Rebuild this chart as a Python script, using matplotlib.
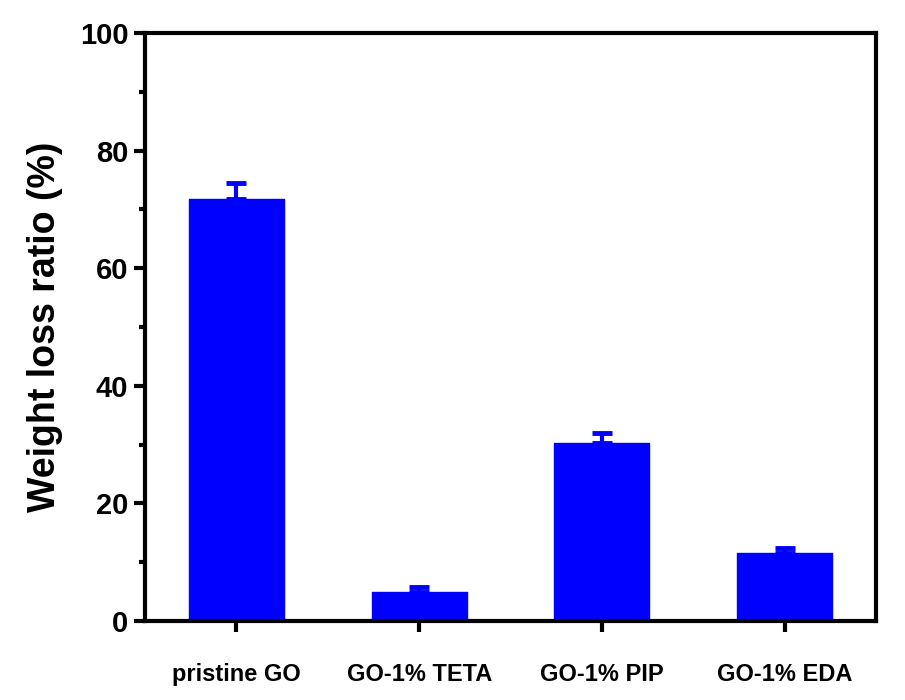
import numpy as np
import matplotlib.pyplot as plt
from matplotlib.ticker import MultipleLocator

samples = ['pristine GO', 'GO-1% TETA', 'GO-1% PIP', 'GO-1% EDA']
loss = [71.8, 5.0, 30.2, 11.6]
err = [2.7, 0.85, 1.8, 0.8]

plt.rcParams['font.family'] = ['Liberation Sans', 'DejaVu Sans']
plt.rcParams['font.weight'] = 'bold'

fig = plt.figure(figsize=(9.05, 7.0), dpi=100)
ax = fig.add_axes([145/905, 1 - 621/700, (876 - 145)/905, (621 - 33)/700])

x = np.arange(1, len(samples) + 1)
ax.bar(x, loss, width=0.52, color='#0000ff', edgecolor='#0000ff', linewidth=1,
       joinstyle='round', zorder=2)
ax.errorbar(x, loss, yerr=[np.zeros(len(err)), err], fmt='none', ecolor='#0000ff',
            elinewidth=3, capsize=7, capthick=3.5, zorder=3)

ax.set_xlim(0.5, 4.5)
ax.set_ylim(0, 100)
ax.set_xticks(x)
ax.set_xticklabels(samples, fontsize=17, fontweight='bold')
ax.yaxis.set_major_locator(MultipleLocator(20))
ax.yaxis.set_minor_locator(MultipleLocator(10))
ax.tick_params(axis='y', which='major', labelsize=21, width=3, length=8, direction='out', pad=4)
ax.tick_params(axis='y', which='minor', width=3, length=4, direction='out')
ax.tick_params(axis='x', which='major', width=3, length=8, direction='out', pad=22)
for lab in ax.get_yticklabels():
    lab.set_fontweight('bold')

for s in ax.spines.values():
    s.set_linewidth(3)

ax.set_ylabel('Weight loss ratio (%)', fontsize=27, fontweight='bold', labelpad=12)

fig.savefig('out.png', dpi=100)
